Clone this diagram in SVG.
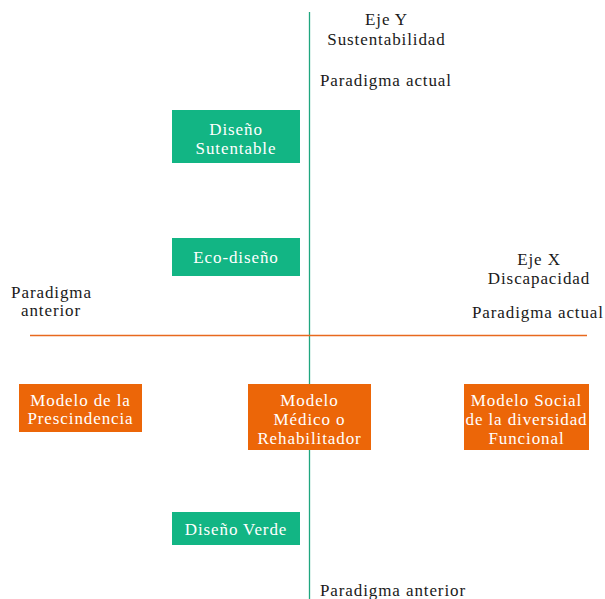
<svg xmlns="http://www.w3.org/2000/svg" width="605" height="599" viewBox="0 0 605 599">
<style>
text{font-family:"Liberation Serif","Times New Roman",serif;font-size:17px;letter-spacing:0.9px}
.lbl{fill:#1a1a1a}
.bt{fill:#ffffff;text-anchor:middle}
.m{text-anchor:middle}
.g{fill:#12b584}
.o{fill:#ec6608}
</style>
<rect width="605" height="599" fill="#ffffff"/>
<g id="connectors">
<line x1="309.5" y1="12" x2="309.5" y2="599" stroke="#1fa67f" stroke-width="1.3"/>
<line x1="30" y1="335.5" x2="587" y2="335.5" stroke="#e8691e" stroke-width="1.3"/>
</g>
<g id="labels" class="lbl">
<text x="386.5" y="25" class="m lbl">Eje Y</text>
<text x="386.5" y="45" class="m lbl">Sustentabilidad</text>
<text x="320" y="86" class="lbl">Paradigma actual</text>
<text x="539" y="265" class="m lbl">Eje X</text>
<text x="539" y="284" class="m lbl">Discapacidad</text>
<text x="472" y="318" class="lbl">Paradigma actual</text>
<text x="51.5" y="298" class="m lbl">Paradigma</text>
<text x="51" y="316" class="m lbl">anterior</text>
<text x="320" y="596" class="lbl">Paradigma anterior</text>
</g>
<g id="n-disenio-sutentable">
<rect x="172" y="110" width="128" height="53" class="g"/>
<text x="236" y="135" class="bt">Diseño</text>
<text x="236" y="154" class="bt">Sutentable</text>
</g>
<g id="n-eco-disenio">
<rect x="172" y="238" width="128" height="38" class="g"/>
<text x="236" y="263" class="bt">Eco-diseño</text>
</g>
<g id="n-disenio-verde">
<rect x="172" y="512" width="128" height="33" class="g"/>
<text x="236" y="535" class="bt">Diseño Verde</text>
</g>
<g id="n-prescindencia">
<rect x="19" y="384" width="123" height="48" class="o"/>
<text x="80.5" y="406" class="bt">Modelo de la</text>
<text x="80.5" y="424" class="bt">Prescindencia</text>
</g>
<g id="n-medico">
<rect x="248" y="384" width="123" height="66" class="o"/>
<text x="309.5" y="406" class="bt">Modelo</text>
<text x="309.5" y="425" class="bt">Médico o</text>
<text x="309.5" y="444" class="bt">Rehabilitador</text>
</g>
<g id="n-social">
<rect x="464" y="384" width="125" height="66" class="o"/>
<text x="526.5" y="406" class="bt">Modelo Social</text>
<text x="526.5" y="425" class="bt">de la diversidad</text>
<text x="526.5" y="444" class="bt">Funcional</text>
</g>
</svg>
